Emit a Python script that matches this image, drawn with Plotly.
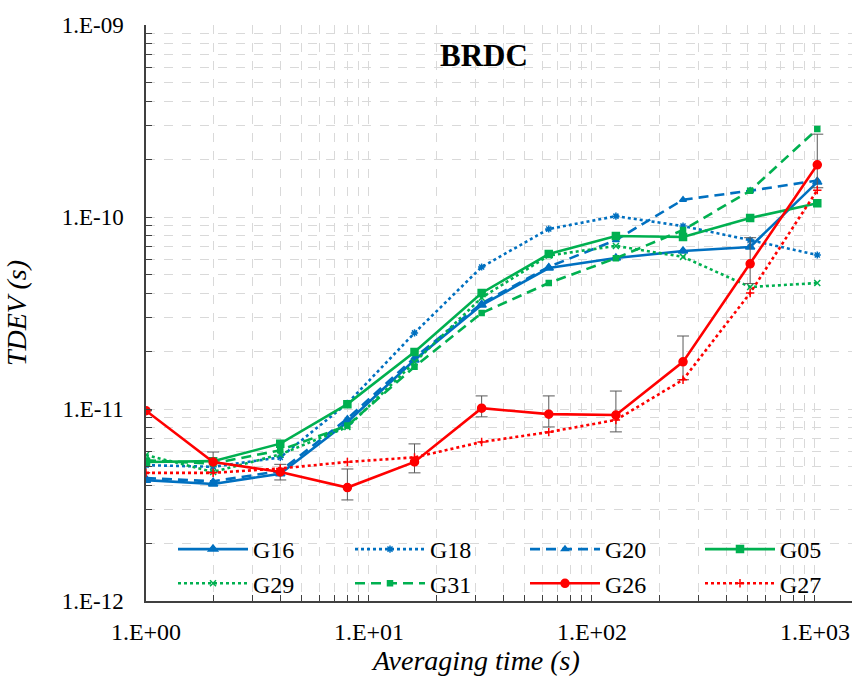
import plotly.graph_objects as go

# Averaging times (s)
tau = [1, 2, 4, 8, 16, 32, 64, 128, 256, 512, 1024]

# TDEV (s) per satellite, broadcast clocks
g16 = [4.26e-12, 4.07e-12, 4.6e-12, 8.55e-12, 1.8e-11, 3.48e-11, 5.42e-11, 6.11e-11, 6.65e-11, 6.98e-11, 1.52e-10]
g18 = [5.1e-12, 5.0e-12, 5.6e-12, 1.07e-11, 2.49e-11, 5.49e-11, 8.66e-11, 1.01e-10, 8.97e-11, 7.58e-11, 6.34e-11]
g20 = [4.37e-12, 4.2e-12, 4.75e-12, 8.9e-12, 1.85e-11, 3.55e-11, 5.5e-11, 7.58e-11, 1.23e-10, 1.37e-10, 1.55e-10]
g05 = [5.3e-12, 5.35e-12, 6.6e-12, 1.06e-11, 1.98e-11, 4.02e-11, 6.41e-11, 7.96e-11, 7.87e-11, 9.89e-11, 1.18e-10]
g29 = [5.76e-12, 4.7e-12, 5.8e-12, 8.06e-12, 1.75e-11, 3.8e-11, 6.3e-11, 7.07e-11, 6.2e-11, 4.32e-11, 4.53e-11]
g31 = [5.4e-12, 5.2e-12, 6.1e-12, 8.2e-12, 1.66e-11, 3.16e-11, 4.53e-11, 6.1e-11, 8.55e-11, 1.37e-10, 2.87e-10]
g26 = [9.8e-12, 5.3e-12, 4.7e-12, 3.9e-12, 5.3e-12, 1.01e-11, 9.4e-12, 9.3e-12, 1.76e-11, 5.7e-11, 1.87e-10]
g27 = [4.65e-12, 4.65e-12, 4.9e-12, 5.3e-12, 5.6e-12, 6.73e-12, 7.58e-12, 8.77e-12, 1.42e-11, 4.02e-11, 1.38e-10]

# Error bars on G26 (upper / lower)
g26_err_plus = [0, 0.67e-12, 0.45e-12, 0.97e-12, 1.28e-12, 1.6e-12, 2.3e-12, 3.1e-12, 6.4e-12, 2.1e-11, 8.3e-11]
g26_err_minus = [0, 0.6e-12, 0.43e-12, 0.54e-12, 0.65e-12, 1.0e-12, 1.34e-12, 1.7e-12, 3.4e-12, 1.2e-11, 4.5e-11]

BLUE = "#0070C0"
GREEN = "#00B050"
RED = "#FF0000"
FONT = "Liberation Serif"

# Plot-area geometry in pixels (used to place paper-referenced items)
PL, PT, PW, PH = 146, 25, 706, 576

def px_x(px):
    return (px - PL) / PW

def px_y(py):
    return (PT + PH - py) / PH

# name, values, colour, dash, marker, marker size, legend column
series = [
    ("G16", g16, BLUE, "solid", "triangle-up", 8, "legend"),
    ("G18", g18, BLUE, "dot", "asterisk-open", 6, "legend2"),
    ("G20", g20, BLUE, "10px,6px", "triangle-up", 6, "legend3"),
    ("G05", g05, GREEN, "solid", "square", 7, "legend4"),
    ("G29", g29, GREEN, "dot", "x-thin-open", 6, "legend"),
    ("G31", g31, GREEN, "10px,6px", "square", 5, "legend2"),
    ("G26", g26, RED, "solid", "circle", 8, "legend3"),
    ("G27", g27, RED, "dot", "cross-thin-open", 6, "legend4"),
]

fig = go.Figure()
for name, vals, color, dash, symbol, msize, leg in series:
    kw = {}
    if name == "G26":
        kw["error_y"] = dict(type="data", symmetric=False, array=g26_err_plus,
                             arrayminus=g26_err_minus, color="#595959",
                             thickness=1, width=6)
    fig.add_trace(go.Scatter(
        x=tau, y=vals, name=name, mode="lines+markers", legend=leg,
        line=dict(color=color, width=2.6, dash=dash),
        marker=dict(symbol=symbol, size=msize, color=color,
                    line=dict(color=color, width=1.5)),
        **kw))

# Log ticks at every digit, labels only on decades
def log_ticks(d0, d1):
    vals, text = [], []
    for d in range(d0, d1):
        for m in range(1, 10):
            vals.append(m * 10.0 ** d)
            text.append(f"1.E{d:+03d}" if m == 1 else "")
    vals.append(10.0 ** d1)
    text.append(f"1.E{d1:+03d}")
    return vals, text

xv, xt = log_ticks(0, 3)
yv, yt = log_ticks(-12, -9)

axis_common = dict(
    type="log", showline=True, linecolor="#404040", linewidth=1.5,
    ticks="inside", ticklen=6, tickcolor="#404040", tickwidth=1,
    showgrid=True, gridcolor="#D9D9D9", gridwidth=1, griddash="dash",
    zeroline=False, mirror=False,
)

fig.update_xaxes(**axis_common, range=[0, 3.166], tickvals=xv, ticktext=xt,
                 tickfont=dict(family=FONT, size=24, color="black"),
                 ticklabelstandoff=8)
fig.update_yaxes(**axis_common, range=[-12, -9], tickvals=yv, ticktext=yt,
                 tickfont=dict(family=FONT, size=23, color="black"),
                 ticklabelstandoff=16,
                 title=dict(text="<i>TDEV (s)</i>",
                            font=dict(family=FONT, size=28, color="black"),
                            standoff=27))

# Chart title and x-axis title
fig.add_annotation(text="<b>BRDC</b>", xref="paper", yref="paper",
                   x=px_x(484), y=px_y(56), xanchor="center", yanchor="middle",
                   showarrow=False, font=dict(family=FONT, size=31, color="black"))
fig.add_annotation(text="<i>Averaging time (s)</i>", xref="paper", yref="paper",
                   x=px_x(475), y=px_y(660), xanchor="center", yanchor="middle",
                   showarrow=False, font=dict(family=FONT, size=28, color="black"))

# Four two-row legend columns along the bottom of the plot area
legend_cols = {"legend": 173, "legend2": 350, "legend3": 525, "legend4": 700}
leg_layout = {}
for key, px in legend_cols.items():
    leg_layout[key] = dict(
        orientation="v", x=px_x(px), y=px_y(527),
        xanchor="left", yanchor="top", bgcolor="rgba(0,0,0,0)",
        itemwidth=70, tracegroupgap=0,
        font=dict(family=FONT, size=24, color="black"))

fig.update_layout(
    width=852, height=679,
    margin=dict(l=PL, r=852 - PL - PW, t=PT, b=679 - PT - PH, autoexpand=False),
    paper_bgcolor="white", plot_bgcolor="white",
    showlegend=True,
    font=dict(family=FONT),
    **leg_layout,
)

fig.write_html("out.html")
